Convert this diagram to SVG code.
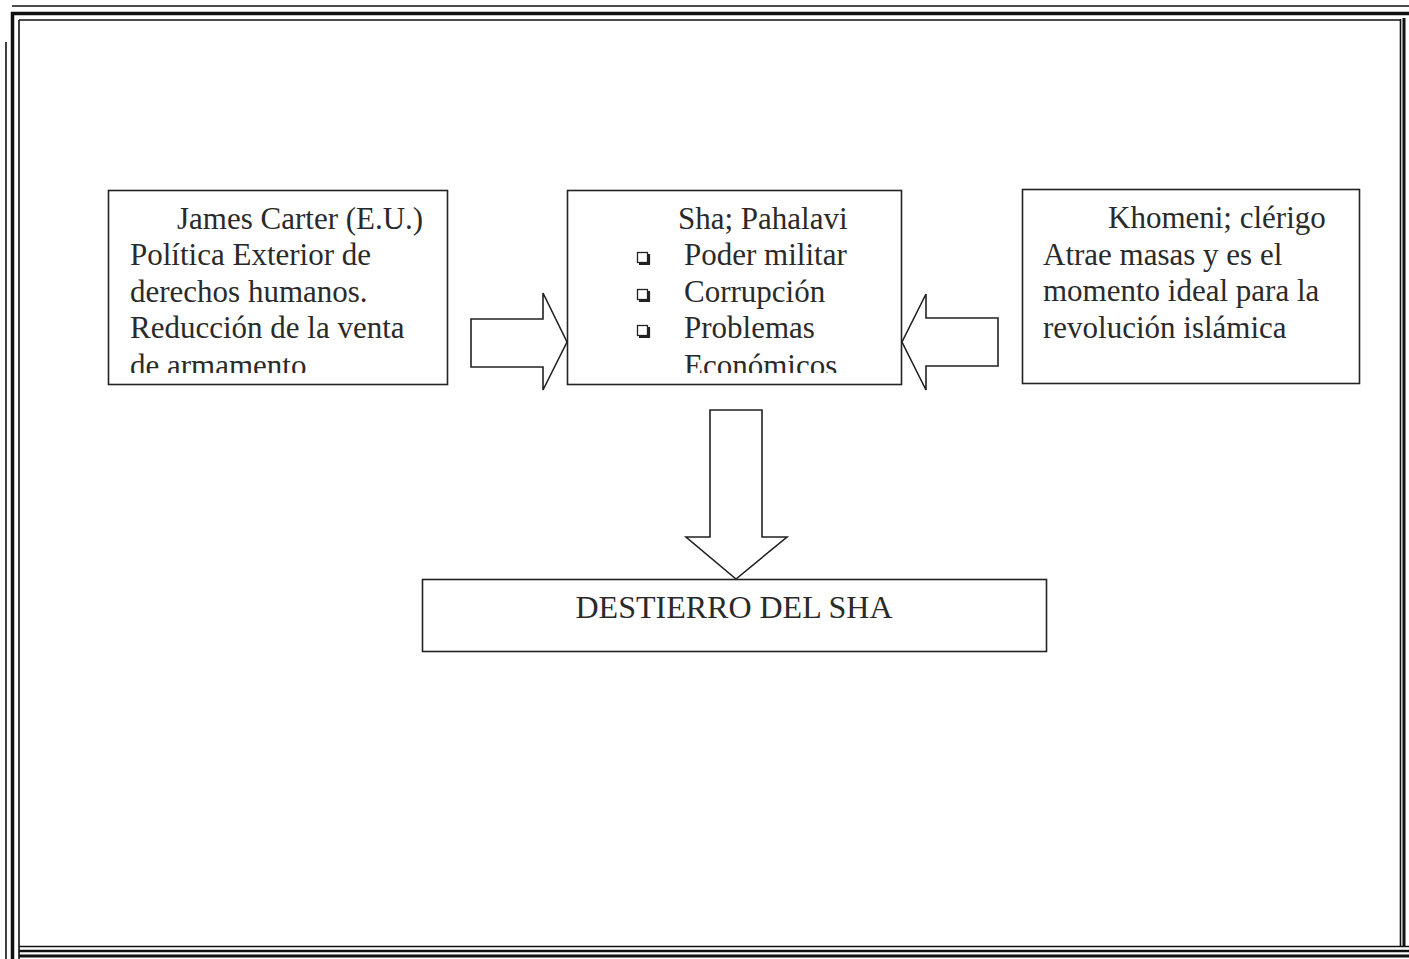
<svg xmlns="http://www.w3.org/2000/svg" width="1409" height="959" viewBox="0 0 1409 959">
<style>
.frame{fill:none;stroke:#111}
.box{fill:#fff;stroke:#222;stroke-width:1.6}
.arrow{fill:#fff;stroke:#222;stroke-width:1.6;stroke-linejoin:miter}
.t{font-family:"Liberation Serif","Times New Roman",serif;font-size:31px;fill:#2a2a2a}
.bul{fill:#fff;stroke:#222;stroke-width:1.3}
.sh{fill:none;stroke:#222;stroke-width:2.2}
</style>
<defs>
<clipPath id="c1"><rect x="108" y="190" width="340" height="183"/></clipPath>
<clipPath id="c2"><rect x="567" y="190" width="335" height="183"/></clipPath>
</defs>
<rect width="1409" height="959" fill="#fff"/>
<g id="frame">
<line class="frame" x1="6" y1="42" x2="6" y2="959" stroke-width="1.6"/>
<line class="frame" x1="12" y1="6" x2="1409" y2="6" stroke-width="1.6"/>
<line class="frame" x1="12.5" y1="12" x2="12.5" y2="959" stroke-width="3.5"/>
<line class="frame" x1="11" y1="13.5" x2="1409" y2="13.5" stroke-width="3.5"/>
<line class="frame" x1="19" y1="20" x2="19" y2="959" stroke-width="1.6"/>
<line class="frame" x1="19" y1="20" x2="1401" y2="20" stroke-width="1.6"/>
<line class="frame" x1="1400.5" y1="19" x2="1400.5" y2="946" stroke-width="1.6"/>
<line class="frame" x1="1404" y1="18" x2="1404" y2="946" stroke-width="3"/>
<line class="frame" x1="19" y1="946.5" x2="1409" y2="946.5" stroke-width="1.6"/>
<line class="frame" x1="19" y1="951" x2="1409" y2="951" stroke-width="2.5"/>
<line class="frame" x1="19" y1="956" x2="1409" y2="956" stroke-width="3"/>
</g>
<g id="connectors">
<polygon class="arrow" points="471,319 543,319 543,293 567,342 543,390 543,367 471,367"/>
<polygon class="arrow" points="998,318 926,318 926,294 902,342 926,390 926,366 998,366"/>
<polygon class="arrow" points="710,410 762,410 762,537 787,537 736,579 686,537 710,537"/>
</g>
<g id="node-carter">
<rect class="box" x="108.5" y="190.5" width="339" height="194"/>
<g clip-path="url(#c1)">
<text class="t" x="177" y="229">James Carter (E.U.)</text>
<text class="t" x="130" y="265">Política Exterior de</text>
<text class="t" x="130" y="302">derechos humanos.</text>
<text class="t" x="130" y="338">Reducción de la venta</text>
<text class="t" x="130" y="376">de armamento</text>
</g>
</g>
<g id="node-sha">
<rect class="box" x="567.5" y="190.5" width="334" height="194"/>
<g clip-path="url(#c2)">
<text class="t" x="678" y="229">Sha; Pahalavi</text>
<rect class="bul" x="637.5" y="252.5" width="10" height="10"/>
<path class="sh" d="M649,254 V264 H639"/>
<text class="t" x="684" y="265">Poder militar</text>
<rect class="bul" x="637.5" y="289.5" width="10" height="10"/>
<path class="sh" d="M649,291 V301 H639"/>
<text class="t" x="684" y="302">Corrupción</text>
<rect class="bul" x="637.5" y="325.5" width="10" height="10"/>
<path class="sh" d="M649,327 V337 H639"/>
<text class="t" x="684" y="338">Problemas</text>
<text class="t" x="684" y="376">Económicos</text>
</g>
</g>
<g id="node-khomeni">
<rect class="box" x="1022.5" y="189.5" width="337" height="194"/>
<text class="t" x="1108" y="228">Khomeni; clérigo</text>
<text class="t" x="1043" y="265">Atrae masas y es el</text>
<text class="t" x="1043" y="301">momento ideal para la</text>
<text class="t" x="1043" y="338">revolución islámica</text>
</g>
<g id="node-destierro">
<rect class="box" x="422.5" y="579.5" width="624" height="72"/>
<text class="t" x="734" y="618" text-anchor="middle" style="font-size:32px">DESTIERRO DEL SHA</text>
</g>
</svg>
